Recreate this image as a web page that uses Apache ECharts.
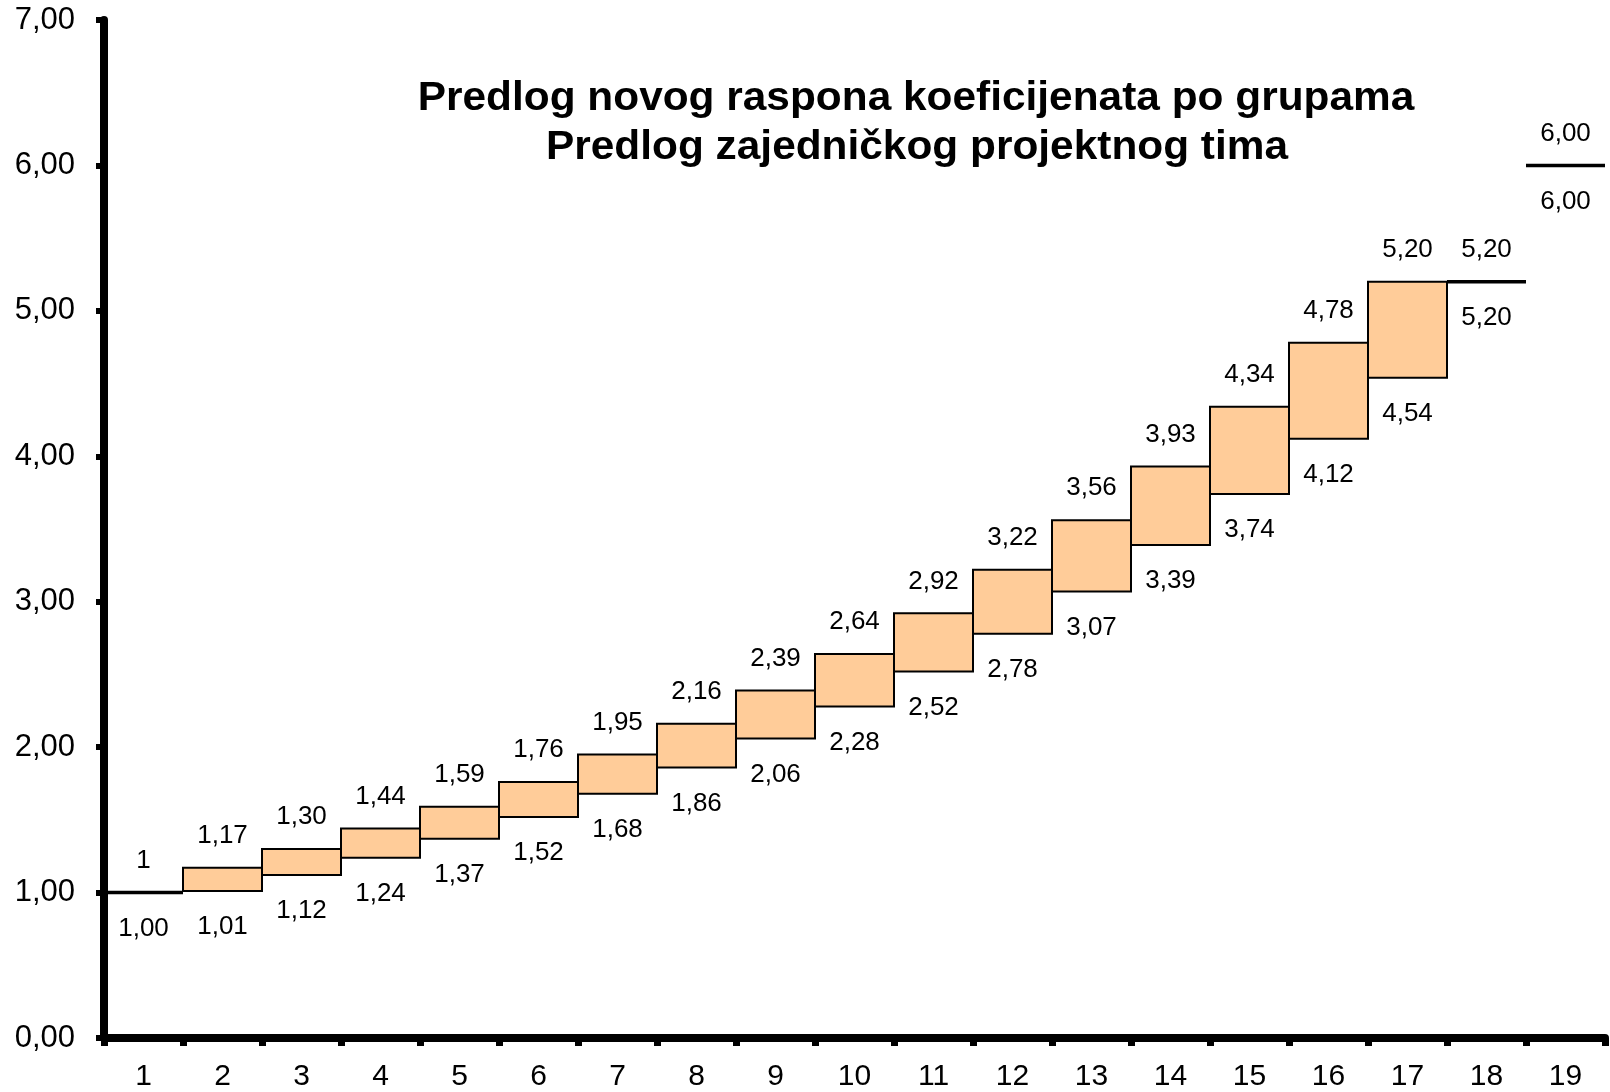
<!DOCTYPE html>
<html>
<head>
<meta charset="utf-8">
<script src="https://cdn.jsdelivr.net/npm/echarts@6/dist/echarts.min.js"></script>
<style>
html,body{margin:0;padding:0;background:#fff;}
#chart{width:1610px;height:1092px;}
</style>
</head>
<body>
<div id="chart"></div>
<script>
const categories = ['1','2','3','4','5','6','7','8','9','10','11','12','13','14','15','16','17','18','19'];
const lows  = [1.00, 1.01, 1.12, 1.24, 1.37, 1.52, 1.68, 1.86, 2.06, 2.28, 2.52, 2.78, 3.07, 3.39, 3.74, 4.12, 4.54, 5.20, 6.00];
const highs = [1.00, 1.17, 1.30, 1.44, 1.59, 1.76, 1.95, 2.16, 2.39, 2.64, 2.92, 3.22, 3.56, 3.93, 4.34, 4.78, 5.20, 5.20, 6.00];
const highLabels = ['1','1,17','1,30','1,44','1,59','1,76','1,95','2,16','2,39','2,64','2,92','3,22','3,56','3,93','4,34','4,78','5,20','5,20','6,00'];
const lowLabels  = ['1,00','1,01','1,12','1,24','1,37','1,52','1,68','1,86','2,06','2,28','2,52','2,78','3,07','3,39','3,74','4,12','4,54','5,20','6,00'];
const titleLines = ['Predlog novog raspona koeficijenata po grupama', 'Predlog zajedničkog projektnog tima'];

const chart = echarts.init(document.getElementById('chart'), null, {renderer:'canvas'});
const FONT = '"Liberation Sans", Arial, sans-serif';
const TITLE_FONT = 'bold 40px "Liberation Sans", Arial, sans-serif';

const rangeData = categories.map((c, i) => [i, lows[i], highs[i]]);

chart.setOption({
  animation: false,
  backgroundColor: '#ffffff',
  graphic: [
    {type:'text', x: 916, y: 99, scaleX: 1.06, z: 100,
     style:{text: titleLines[0], font: TITLE_FONT, fill:'#000', textAlign:'center', textVerticalAlign:'middle'}},
    {type:'text', x: 917, y: 148, scaleX: 1.06, z: 100,
     style:{text: titleLines[1], font: TITLE_FONT, fill:'#000', textAlign:'center', textVerticalAlign:'middle'}}
  ],
  grid: {left: 104, right: 5, top: 20, bottom: 53.5, containLabel: false},
  xAxis: {
    type: 'category',
    data: categories,
    boundaryGap: true,
    axisLine: {show: true, lineStyle: {color:'#000', width: 8}},
    axisTick: {show: true, inside: false, length: 8, alignWithLabel: false, lineStyle: {color:'#000', width: 7}},
    axisLabel: {color:'#000', fontFamily: FONT, fontSize: 30, margin: 24, interval: 0},
    splitLine: {show: false}
  },
  yAxis: {
    type: 'value',
    min: 0, max: 7, interval: 1,
    axisLine: {show: true, lineStyle: {color:'#000', width: 8}},
    axisTick: {show: true, inside: false, length: 8, lineStyle: {color:'#000', width: 6}},
    axisLabel: {color:'#000', fontFamily: FONT, fontSize: 31, margin: 29,
      formatter: v => v.toFixed(2).replace('.', ',')},
    splitLine: {show: false}
  },
  series: [
    {
      type: 'custom',
      z: 2,
      encode: {x: 0, y: [1, 2]},
      data: rangeData,
      renderItem: function (params, api) {
        const i = api.value(0);
        const lo = api.value(1);
        const hi = api.value(2);
        const top = api.coord([i, hi]);
        const bot = api.coord([i, lo]);
        const w = api.size([1, 0])[0];
        if (hi > lo) {
          return {type:'rect', shape:{x: top[0] - w/2, y: top[1], width: w, height: bot[1] - top[1]},
                  style:{fill:'#FFCC99', stroke:'#000', lineWidth: 2}};
        }
        return {type:'line', shape:{x1: top[0] - w/2, y1: top[1], x2: top[0] + w/2, y2: top[1]},
                style:{stroke:'#000', lineWidth: 3.5}};
      }
    },
    {
      type: 'scatter', z: 3, symbolSize: 0, silent: true,
      itemStyle: {opacity: 1},
      data: highs,
      label: {show: true, position: 'top', distance: 19, color:'#000', opacity: 1, fontFamily: FONT, fontSize: 26,
        formatter: p => highLabels[p.dataIndex]}
    },
    {
      type: 'scatter', z: 3, symbolSize: 0, silent: true,
      itemStyle: {opacity: 1},
      data: lows,
      label: {show: true, position: 'bottom', distance: 23, color:'#000', opacity: 1, fontFamily: FONT, fontSize: 26,
        formatter: p => lowLabels[p.dataIndex]}
    }
  ]
});
</script>
</body>
</html>
